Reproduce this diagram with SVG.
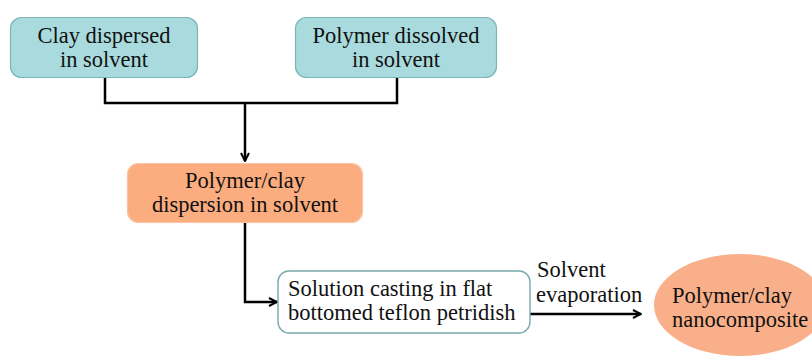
<svg xmlns="http://www.w3.org/2000/svg" width="812" height="356" viewBox="0 0 812 356" font-family="'Liberation Serif', 'Times New Roman', serif" font-size="22">
<style>
text{font-family:'Liberation Serif','Times New Roman',serif;font-size:22.5px;fill:#111}
.teal{fill:#a9dbde;stroke:#7db4b7;stroke-width:1.2}
.orange{fill:#fbad80;stroke:#fbc3a3;stroke-width:1.2}
.white{fill:#fff;stroke:#78a9ad;stroke-width:1.4}
.conn{fill:none;stroke:#000;stroke-width:2.5}
.c{text-anchor:middle}
</style>
<defs>
<marker id="arr" viewBox="0 0 10 10" refX="9" refY="5" markerWidth="4" markerHeight="4" orient="auto" markerUnits="strokeWidth">
<path d="M1,1 L9,5 L1,9" fill="none" stroke="#000" stroke-width="2"/>
</marker>
</defs>
<g id="connectors">
<path class="conn" d="M105,78 V103 H397 V78"/>
<path class="conn" d="M245,103 V161" marker-end="url(#arr)"/>
<path class="conn" d="M245,223 V302 H277" marker-end="url(#arr)"/>
<path class="conn" d="M530,314 H641" marker-end="url(#arr)"/>
<text x="537" y="277">Solvent</text>
<text x="536" y="302">evaporation</text>
</g>
<g id="clay">
<rect class="teal" x="10.5" y="17.5" width="187" height="60" rx="11"/>
<text class="c" x="104" y="43">Clay dispersed</text>
<text class="c" x="104" y="67">in solvent</text>
</g>
<g id="polymer">
<rect class="teal" x="295.5" y="17.5" width="201" height="60" rx="11"/>
<text class="c" x="396" y="43">Polymer dissolved</text>
<text class="c" x="396" y="67">in solvent</text>
</g>
<g id="dispersion">
<rect class="orange" x="127.5" y="163.5" width="235" height="59" rx="11"/>
<text class="c" x="245" y="188">Polymer/clay</text>
<text class="c" x="245" y="212">dispersion in solvent</text>
</g>
<g id="casting">
<rect class="white" x="278" y="271" width="252" height="62" rx="11"/>
<text x="288" y="296">Solution casting in flat</text>
<text x="288" y="320">bottomed teflon petridish</text>
</g>
<g id="nanocomposite">
<ellipse cx="740" cy="305" rx="86" ry="51" fill="#f9b08a"/>
<text x="672" y="303">Polymer/clay</text>
<text x="672" y="327">nanocomposite</text>
</g>
</svg>
